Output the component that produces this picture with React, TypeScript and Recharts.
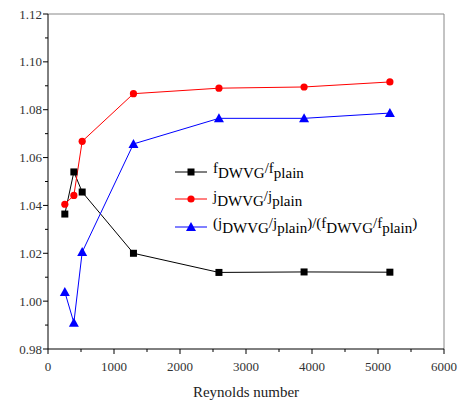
import React from 'react';
import { LineChart, Line, XAxis, YAxis, ReferenceLine } from 'recharts';

// values
const reynolds = [255, 392, 518, 1295, 2590, 3880, 5180];
const fRatio = [1.0364, 1.054, 1.0456, 1.02, 1.012, 1.0122, 1.0121];
const jRatio = [1.0405, 1.0442, 1.0668, 1.0867, 1.089, 1.0895, 1.0916];
const jfRatio = [1.0038, 0.991, 1.0205, 1.0657, 1.0764, 1.0764, 1.0786];

const xTicks = [0, 500, 1000, 1500, 2000, 2500, 3000, 3500, 4000, 4500, 5000, 5500, 6000];
const yTicks = [0.98, 0.99, 1.0, 1.01, 1.02, 1.03, 1.04, 1.05, 1.06, 1.07, 1.08, 1.09, 1.1, 1.11, 1.12];

const data = reynolds.map((re, i) => ({ re, f: fRatio[i], j: jRatio[i], jf: jfRatio[i] }));

const FONT = "'Liberation Serif', serif";
const TICK_COLOR = '#333';

const XTick = (props: any) => {
  const { x, y, payload } = props;
  const major = payload.value % 1000 === 0;
  return (
    <g>
      <line x1={x} x2={x} y1={y} y2={y + (major ? 5 : 3)} stroke="#000" />
      {major && (
        <text x={x} y={y + 22} textAnchor="middle" style={{ fontFamily: FONT }} fontSize={13} fill={TICK_COLOR}>
          {payload.value}
        </text>
      )}
    </g>
  );
};

const YTick = (props: any) => {
  const { x, y, payload } = props;
  const major = Math.round(payload.value * 100) % 2 === 0;
  return (
    <g>
      <line x1={x} x2={x - (major ? 5 : 3)} y1={y} y2={y} stroke="#000" />
      {major && (
        <text x={x - 6} y={y + 4.5} textAnchor="end" style={{ fontFamily: FONT }} fontSize={13} fill={TICK_COLOR}>
          {payload.value.toFixed(2)}
        </text>
      )}
    </g>
  );
};

const Square = (props: any) => {
  const { cx, cy, index } = props;
  return <rect key={`s-${index}`} x={cx - 3.5} y={cy - 3.5} width={7} height={7} fill="#000" />;
};

const Circle = (props: any) => {
  const { cx, cy, index } = props;
  return <circle key={`c-${index}`} cx={cx} cy={cy} r={3.6} fill="#ff0000" />;
};

const Triangle = (props: any) => {
  const { cx, cy, index } = props;
  return (
    <path
      key={`t-${index}`}
      d={`M${cx},${cy - 5} L${cx + 5},${cy + 4} L${cx - 5},${cy + 4} Z`}
      fill="#0000ff"
    />
  );
};

const sub: React.CSSProperties = { fontSize: 15, position: 'relative', top: 5 };

const LegendRow = ({ color, marker, children }: { color: string; marker: React.ReactNode; children: React.ReactNode }) => (
  <div style={{ display: 'flex', alignItems: 'center', height: 27.5 }}>
    <svg width={32} height={12} style={{ marginRight: 6 }}>
      <line x1={0} x2={32} y1={6} y2={6} stroke={color} />
      {marker}
    </svg>
    <span style={{ fontFamily: FONT, fontSize: 15, color: '#000', position: 'relative', top: -3, whiteSpace: 'nowrap' }}>
      {children}
    </span>
  </div>
);

const ChartLegend = () => (
  <div style={{ position: 'absolute', left: 175, top: 158 }}>
    <LegendRow color="#000" marker={<rect x={12.5} y={2.5} width={7} height={7} fill="#000" />}>
      f<span style={sub}>DWVG</span>/f<span style={sub}>plain</span>
    </LegendRow>
    <LegendRow color="#ff0000" marker={<circle cx={16} cy={6} r={3.6} fill="#ff0000" />}>
      j<span style={sub}>DWVG</span>/j<span style={sub}>plain</span>
    </LegendRow>
    <LegendRow color="#0000ff" marker={<path d="M16,1 L21,10 L11,10 Z" fill="#0000ff" />}>
      (j<span style={sub}>DWVG</span>/j<span style={sub}>plain</span>)/(f<span style={sub}>DWVG</span>/f
      <span style={sub}>plain</span>)
    </LegendRow>
  </div>
);

export default function App() {
  return (
    <div style={{ position: 'absolute', left: 0, top: 0, width: 462, height: 409, background: '#fff' }}>
      <LineChart width={462} height={409} data={data} margin={{ top: 14, right: 18, left: 0, bottom: 0 }}>
        <XAxis
          dataKey="re"
          type="number"
          domain={[0, 6000]}
          ticks={xTicks}
          interval={0}
          height={60}
          tickSize={0}
          tickMargin={0}
          tickLine={false}
          tick={<XTick />}
          axisLine={{ stroke: '#000' }}
          label={{ value: 'Reynolds number', position: 'insideBottom', offset: 12, style: { fontFamily: FONT }, fontSize: 15, fill: '#222' }}
        />
        <YAxis
          type="number"
          domain={[0.98, 1.12]}
          ticks={yTicks}
          interval={0}
          width={48}
          tickSize={0}
          tickMargin={0}
          tickLine={false}
          tick={<YTick />}
          axisLine={{ stroke: '#000' }}
        />
        <ReferenceLine y={1.12} stroke="#888" />
        <ReferenceLine x={6000} stroke="#888" />
        <Line dataKey="f" stroke="#000" strokeWidth={1} dot={<Square />} activeDot={false} isAnimationActive={false} />
        <Line dataKey="j" stroke="#ff0000" strokeWidth={1} dot={<Circle />} activeDot={false} isAnimationActive={false} />
        <Line dataKey="jf" stroke="#0000ff" strokeWidth={1} dot={<Triangle />} activeDot={false} isAnimationActive={false} />
      </LineChart>
      <ChartLegend />
    </div>
  );
}
